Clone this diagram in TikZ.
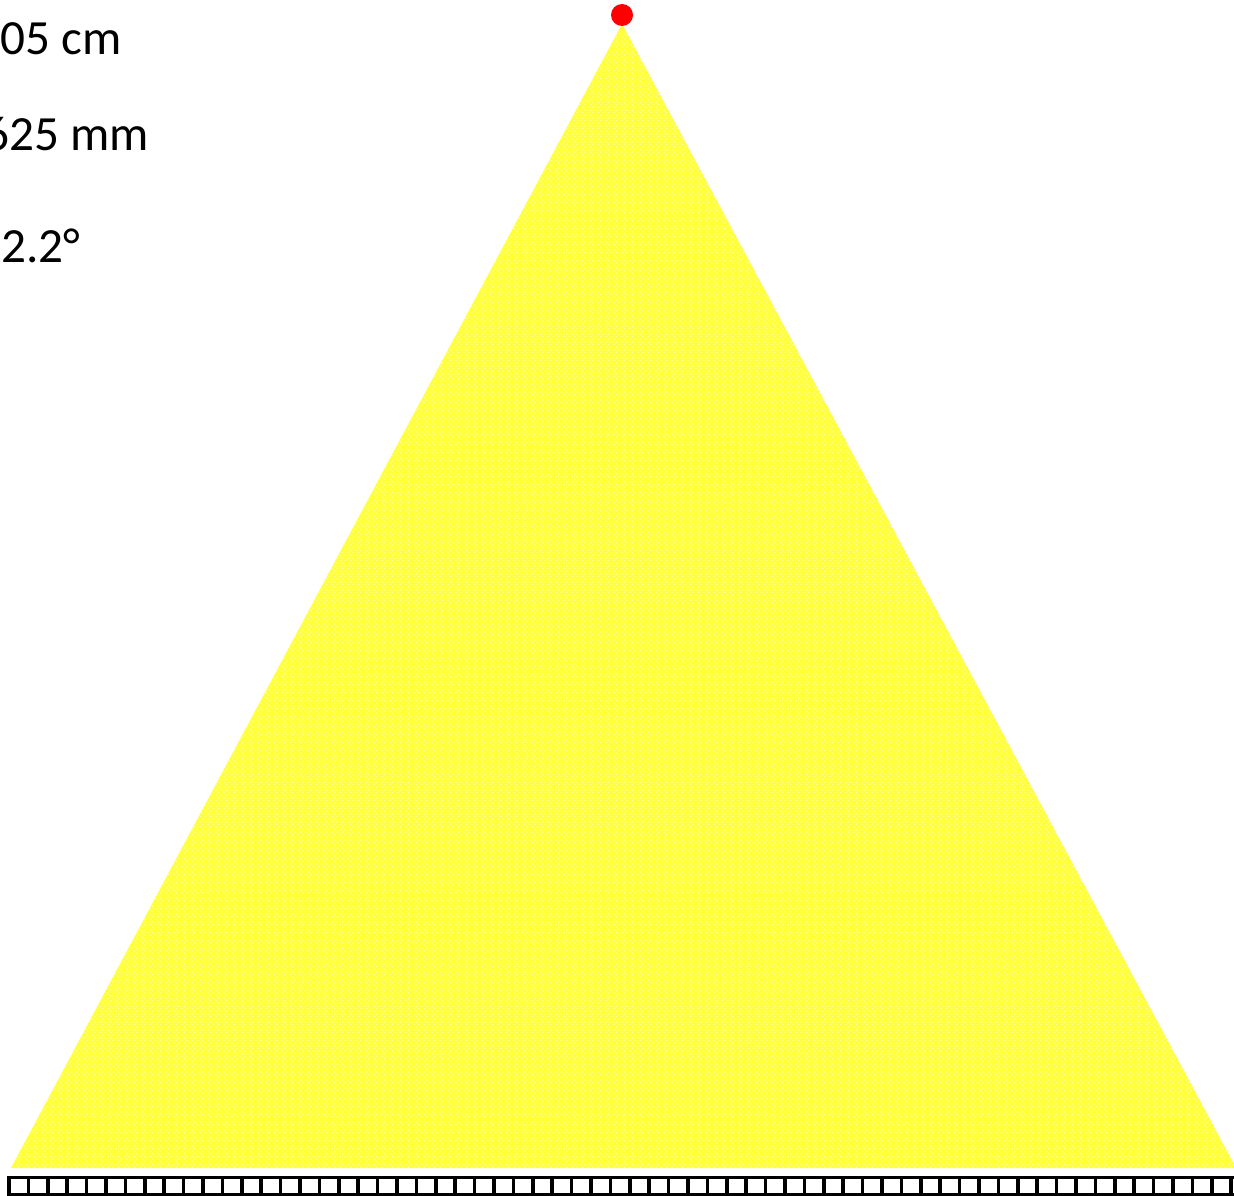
\documentclass[tikz,border=0pt]{standalone}
\usepackage{fontspec}
\setmainfont{Carlito}
\usetikzlibrary{patterns}
\definecolor{beamyellow}{RGB}{255,255,60}
\definecolor{dotyellow}{RGB}{255,255,150}
\definecolor{lampred}{RGB}{255,0,0}
\begin{document}
\begin{tikzpicture}[
    x=0.02cm, y=-0.02cm,
    label/.style={font=\fontsize{28}{34}\selectfont, inner sep=0pt, text=black},
    beam/.style={fill=beamyellow, draw=none},
    lamp/.style={circle, fill=lampred, minimum size=0.44cm, inner sep=0pt},
    tile/.style={draw=black, line width=0.07cm}
]
\clip (0,0) rectangle (1234,1196);
\fill[white] (0,0) rectangle (1234,1196);

\coordinate (apex) at (622,24);
\coordinate (baseleft) at (11,1168);
\coordinate (baseright) at (1236,1168);
\fill[beam] (apex) -- (baseright) -- (baseleft) -- cycle;
\fill[pattern=crosshatch dots, pattern color=dotyellow] (apex) -- (baseright) -- (baseleft) -- cycle;
\node[lamp] (source) at (622,15) {};

\node[label, anchor=base east] (distance) at (122,55) {105 cm};
\node[label, anchor=base east] (width) at (149,151) {625 mm};
\node[label, anchor=base west] (angle) at (1,263) {2.2°};

\foreach \i in {0,...,63}
    \draw[tile] ({9+\i*19.4},1177.5) rectangle ({9+(\i+1)*19.4},1194.5);
\end{tikzpicture}
\end{document}
